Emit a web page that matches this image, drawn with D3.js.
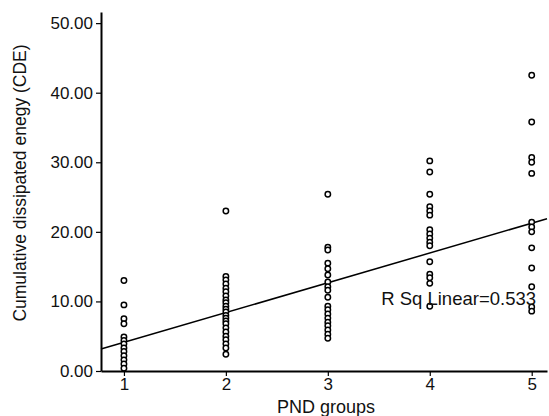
<!DOCTYPE html>
<html><head><meta charset="utf-8">
<script src="https://cdn.jsdelivr.net/npm/d3@7"></script>
<style>body{margin:0;background:#fff}svg{display:block}</style>
</head><body>
<script>
const groups = [1, 2, 3, 4, 5];
const group1 = [13.0, 9.5, 7.5, 6.8, 4.9, 4.4, 3.9, 3.3, 2.8, 2.2, 1.6, 1.0, 0.4];
const group2 = [23.0, 13.6, 13.1, 12.5, 11.9, 11.4, 10.8, 10.2, 9.8, 9.3, 8.9, 8.5, 8.0, 7.6, 7.2, 6.8, 6.2, 5.6, 5.0, 4.5, 3.9, 3.3, 2.4];
const group3 = [25.4, 17.8, 17.4, 15.5, 14.7, 13.8, 12.8, 12.1, 11.6, 10.6, 9.3, 8.8, 8.2, 7.6, 7.0, 6.5, 5.9, 5.3, 4.7];
const group4 = [30.2, 28.6, 25.4, 23.6, 23.0, 22.4, 20.3, 19.7, 19.1, 18.5, 18.0, 15.7, 13.9, 13.4, 12.6, 9.3];
const group5 = [42.5, 35.8, 30.7, 30.0, 28.4, 21.4, 20.7, 20.0, 17.7, 14.8, 12.1, 9.2, 8.6];
const seriesValues = [group1, group2, group3, group4, group5];
const yTicks = [0, 10, 20, 30, 40, 50];
const fitLine = {intercept: -0.16, slope: 4.28};
const rSqLabel = "R Sq Linear=0.533";

const W = 549, H = 416;
const svg = d3.select("body").append("svg").attr("width", W).attr("height", H);
const font = "'Liberation Sans', Arial, sans-serif";

const x = d3.scaleLinear().domain([0.775, 5.15]).range([101, 547]);
const y = d3.scaleLinear().domain([0, 51.6]).range([371, 12]);

// regression line
const xd = x.domain();
svg.append("line")
  .attr("x1", x(xd[0])).attr("y1", y(fitLine.intercept + fitLine.slope * xd[0]))
  .attr("x2", x(xd[1])).attr("y2", y(fitLine.intercept + fitLine.slope * xd[1]))
  .attr("stroke", "#000").attr("stroke-width", 1.5);

// points
const pts = [];
seriesValues.forEach((vals, i) => vals.forEach(v => pts.push({g: groups[i], v})));
svg.append("g").selectAll("circle").data(pts).join("circle")
  .attr("cx", d => x(d.g)).attr("cy", d => y(d.v)).attr("r", 2.7)
  .attr("fill", "#fff").attr("stroke", "#000").attr("stroke-width", 1.5);

// axes
const yAxis = svg.append("g").attr("transform", "translate(101,0)")
  .call(d3.axisLeft(y).tickValues(yTicks).tickFormat(d3.format(".2f")).tickSize(5).tickPadding(3).tickSizeOuter(0));
const xAxis = svg.append("g").attr("transform", "translate(0,371)")
  .call(d3.axisBottom(x).tickValues(groups).tickFormat(d3.format("d")).tickSize(5).tickPadding(2).tickSizeOuter(0));
[yAxis, xAxis].forEach(a => {
  a.select(".domain").attr("stroke", "#000").attr("stroke-width", 2);
  a.selectAll(".tick line").attr("stroke", "#000").attr("stroke-width", 1.2);
  a.selectAll("text").attr("font-family", font).attr("font-size", 17).attr("fill", "#111");
});

// axis titles
svg.append("text").attr("transform", "translate(26,183) rotate(-90)")
  .attr("text-anchor", "middle").attr("font-family", font).attr("font-size", 17.5).attr("fill", "#111")
  .text("Cumulative dissipated enegy (CDE)");
svg.append("text").attr("x", 326).attr("y", 413)
  .attr("text-anchor", "middle").attr("font-family", font).attr("font-size", 18).attr("fill", "#111")
  .text("PND groups");

// R Sq label
svg.append("text").attr("x", 536).attr("y", 305)
  .attr("text-anchor", "end").attr("font-family", font).attr("font-size", 18.5).attr("fill", "#111")
  .text(rSqLabel);
</script>
</body></html>
